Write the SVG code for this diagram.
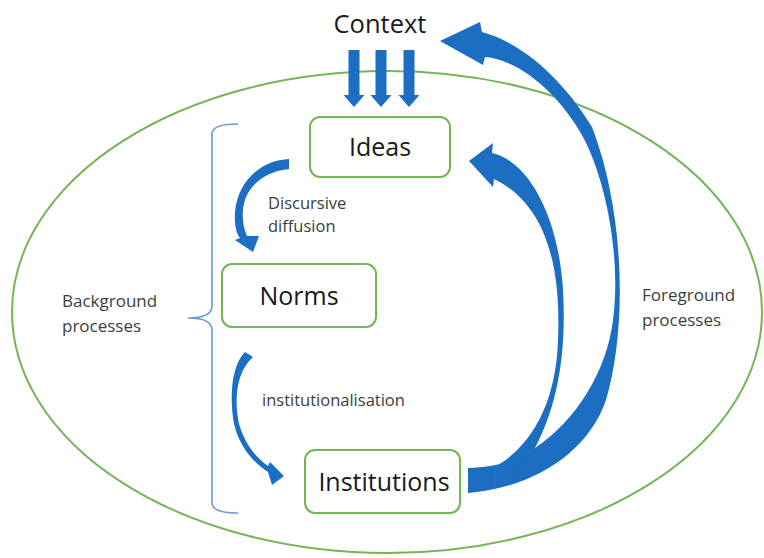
<svg xmlns="http://www.w3.org/2000/svg" width="764" height="558" viewBox="0 0 764 558">
  <style>
    .frame { fill: none; stroke: #74b556; stroke-width: 2; }
    .box { fill: #ffffff; stroke: #74b556; stroke-width: 2; }
    .brace { fill: none; stroke: #6a9bd6; stroke-width: 1.6; }
    .flow { fill: #1b6ec2; stroke: none; }
    .big { font-family: "Open Sans", "Liberation Sans", sans-serif; font-size: 25px; fill: #1a1a1a; text-anchor: middle; }
    .small { font-family: "Open Sans", "Liberation Sans", sans-serif; font-size: 16.5px; fill: #3d3d3d; }
  </style>
  <defs>
    <!-- straight downward block arrow, centred on x = 0 -->
    <path id="down" d="M-5.5,50 L5.5,50 L5.5,95 L10.5,95 L0,107 L-10.5,95 L-5.5,95 Z"/>
  </defs>

  <rect width="764" height="558" fill="#ffffff"/>

  <!-- outer boundary -->
  <ellipse class="frame" cx="387" cy="312" rx="375" ry="241"/>

  <!-- curly brace grouping the background processes -->
  <path class="brace" d="M238,124 Q212,124 212,134 L212,306 Q212,318 188,318 Q212,318 212,330 L212,503 Q212,513 238,513"/>

  <g id="node-ideas">
    <rect class="box" x="310" y="117" width="140" height="60" rx="10"/>
    <text class="big" x="380" y="156">Ideas</text>
  </g>

  <g id="node-norms">
    <rect class="box" x="222" y="264" width="154" height="63" rx="10"/>
    <text class="big" x="299" y="305">Norms</text>
  </g>

  <g id="node-institutions">
    <rect class="box" x="305" y="450" width="155" height="63" rx="10"/>
    <text class="big" x="384" y="491">Institutions</text>
  </g>

  <g id="node-context">
    <text class="big" x="380" y="33" style="font-size:25.5px">Context</text>
  </g>

  <g id="connectors">
    <!-- context feeding into ideas -->
    <use href="#down" class="flow" x="354" y="0"/>
    <use href="#down" class="flow" x="381" y="0"/>
    <use href="#down" class="flow" x="409" y="0"/>

    <!-- ideas to norms: discursive diffusion -->
    <path class="flow" d="M289,159 C262,160 238,180 235,212 C234,226 237,235 240,238 L235,240 L253,252 L259,236 L247,236 C242,225 241,210 246,197 C254,180 270,171 289,169 Z"/>

    <!-- norms to institutions: institutionalisation -->
    <path class="flow" d="M245,352 C232,365 229,395 234,424 C240,448 254,463 268,472 L272,485 L284,476 L270,462 L268,466 C256,458 245,444 239,424 C234,400 236,372 253,357 Z"/>

    <!-- institutions back to context (outer sweep) -->
    <path class="flow" d="M468,493 C530,488 587,455 606,400 C628,325 624,210 592,127 C570,90 530,45 482,32 L480,22 L440,41 L483,65 L485,57 C520,60 560,95 583,137 C607,182 621,260 613,320 C607,370 577,420 535,448 C515,462 495,467 468,468 Z"/>

    <!-- institutions back to ideas (inner sweep) -->
    <path class="flow" d="M468,469 L495,467 C530,447 556,405 558,340 C561,270 548,205 494,179 L493,187 L469,161 L493,143 L492,153 C525,160 558,210 563,290 C567,360 555,410 535,448 L510,480 L468,493 Z"/>
    <line x1="495" y1="467" x2="495" y2="490" stroke="#3a84cf" stroke-width="1" opacity="0.6"/>
  </g>

  <g id="labels">
    <text class="small" x="268" y="209">Discursive</text>
    <text class="small" x="268" y="232">diffusion</text>
    <text class="small" x="262" y="406">institutionalisation</text>
    <text class="small" x="62" y="307" style="font-size:17px">Background</text>
    <text class="small" x="62" y="332" style="font-size:17px">processes</text>
    <text class="small" x="642" y="301" style="font-size:17px">Foreground</text>
    <text class="small" x="642" y="326" style="font-size:17px">processes</text>
  </g>
</svg>
